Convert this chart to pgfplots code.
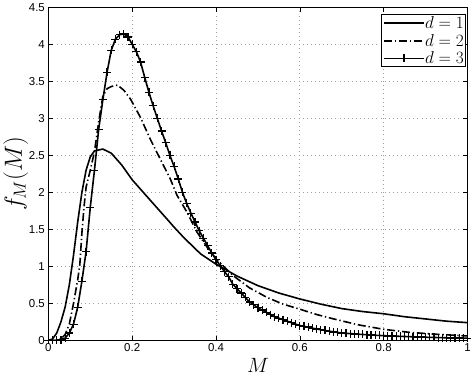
\documentclass[border=0pt]{standalone}
\usepackage{pgfplots}
\pgfplotsset{compat=1.18}
\usepackage{fontspec}
\setmainfont{Liberation Sans}
\begin{document}
\begin{tikzpicture}
\begin{axis}[
  scale only axis, width=419bp, height=333bp,
  xmin=0, xmax=1, ymin=0, ymax=4.5,
  xtick={0,0.2,...,1}, ytick={0,0.5,...,4.5},
  /pgf/number format/assume math mode=true,
  xticklabel style={/pgf/number format/fixed, /pgf/number format/precision=1},
  yticklabel style={/pgf/number format/fixed, /pgf/number format/precision=1},
  tick label style={font=\fontsize{11.5}{12}\selectfont},
  grid=major, major grid style={dash pattern=on 0.9bp off 3.2bp, gray!75, line width=0.7bp},
  axis line style={line width=0.9bp},
  tick style={line width=0.6bp, black},
  tick align=inside, major tick length=4.5bp,
  xlabel={$M$}, ylabel={$f_M(M)$},
  xlabel style={font=\fontsize{22}{24}\selectfont, yshift=1bp},
  ylabel style={font=\fontsize{25}{27}\selectfont, yshift=-6bp},
  legend style={font=\fontsize{18.5}{18}\selectfont, draw=black, line width=0.9bp,
    inner sep=1.5bp, row sep=3.5bp, nodes={inner sep=0.3bp}, at={(0.9965,0.979)}, anchor=north east},
  legend cell align=left,
  legend image code/.code={\draw[mark repeat=2, mark phase=2, #1] plot coordinates {(0bp,0bp)(20bp,0bp)(40bp,0bp)};},
]
\addplot[black, line width=1.6bp] coordinates {
(0,0)(0.01,0.02)(0.02,0.1)(0.03,0.25)(0.04,0.45)(0.05,0.75)(0.06,1.15)(0.07,1.6)(0.08,2.0)(0.09,2.3)(0.1,2.48)(0.11,2.56)(0.13,2.585)(0.15,2.53)(0.175,2.37)(0.2,2.17)(0.25,1.85)(0.283,1.64)(0.3,1.53)(0.323,1.39)(0.363,1.17)(0.4,1.03)(0.45,0.87)(0.5,0.74)(0.55,0.64)(0.6,0.56)(0.65,0.49)(0.7,0.43)(0.75,0.39)(0.8,0.36)(0.85,0.32)(0.9,0.29)(0.95,0.26)(1.0,0.24)};
\addlegendentry{$d=1$}
\addplot[black, line width=1.6bp, dash pattern=on 8bp off 2.8bp on 1.3bp off 2.8bp] coordinates {
(0,0)(0.02,0)(0.03,0.02)(0.04,0.08)(0.05,0.22)(0.06,0.5)(0.07,0.82)(0.075,1.02)(0.08,1.45)(0.085,1.8)(0.09,2.07)(0.1,2.3)(0.11,2.55)(0.12,2.95)(0.13,3.3)(0.14,3.4)(0.15,3.43)(0.165,3.45)(0.18,3.38)(0.196,3.26)(0.22,3.01)(0.243,2.72)(0.267,2.45)(0.291,2.18)(0.307,1.96)(0.331,1.73)(0.355,1.46)(0.38,1.25)(0.403,1.08)(0.442,0.87)(0.48,0.71)(0.522,0.58)(0.56,0.49)(0.601,0.42)(0.64,0.35)(0.681,0.29)(0.74,0.21)(0.8,0.15)(0.86,0.11)(0.92,0.085)(1.0,0.06)};
\addlegendentry{$d=2$}
\addplot[black, line width=1.6bp, mark=+, mark size=4bp, mark options={line width=1.2bp}] coordinates {
(0,0)(0.01,0)(0.02,0)(0.03,0.005)(0.04,0.03)(0.05,0.1)(0.06,0.22)(0.07,0.45)(0.08,0.8)(0.09,1.2)(0.1,1.8)(0.11,2.3)(0.12,2.85)(0.13,3.25)(0.14,3.62)(0.15,3.92)(0.16,4.07)(0.17,4.13)(0.18,4.14)(0.19,4.1)(0.2,4.0)
(0.21,3.9)(0.22,3.76)(0.23,3.55)(0.24,3.35)(0.25,3.17)(0.26,3.0)(0.27,2.83)(0.28,2.67)(0.29,2.5)(0.3,2.35)(0.31,2.18)(0.32,2.0)(0.33,1.85)(0.34,1.72)(0.35,1.6)(0.36,1.48)(0.37,1.38)(0.38,1.28)(0.39,1.18)(0.4,1.09)
(0.41,1.01)(0.42,0.93)(0.43,0.86)(0.44,0.76)(0.45,0.7)(0.46,0.64)(0.47,0.58)(0.48,0.52)(0.49,0.48)(0.5,0.44)(0.51,0.41)(0.52,0.38)(0.53,0.35)(0.54,0.32)(0.55,0.3)(0.56,0.28)(0.57,0.26)(0.58,0.24)(0.59,0.22)(0.6,0.2)
(0.61,0.19)(0.62,0.18)(0.63,0.165)(0.64,0.155)(0.65,0.145)(0.66,0.135)(0.67,0.125)(0.68,0.115)(0.69,0.108)(0.7,0.1)(0.71,0.096)(0.72,0.092)(0.73,0.088)(0.74,0.084)(0.75,0.08)(0.76,0.077)(0.77,0.074)(0.78,0.07)(0.79,0.067)(0.8,0.064)
(0.81,0.061)(0.82,0.059)(0.83,0.057)(0.84,0.055)(0.85,0.053)(0.86,0.051)(0.87,0.049)(0.88,0.047)(0.89,0.045)(0.9,0.043)(0.91,0.041)(0.92,0.04)(0.93,0.038)(0.94,0.037)(0.95,0.036)(0.96,0.034)(0.97,0.033)(0.98,0.032)(0.99,0.031)(1.0,0.03)};
\addlegendentry{$d=3$}
\end{axis}
\end{tikzpicture}
\end{document}
